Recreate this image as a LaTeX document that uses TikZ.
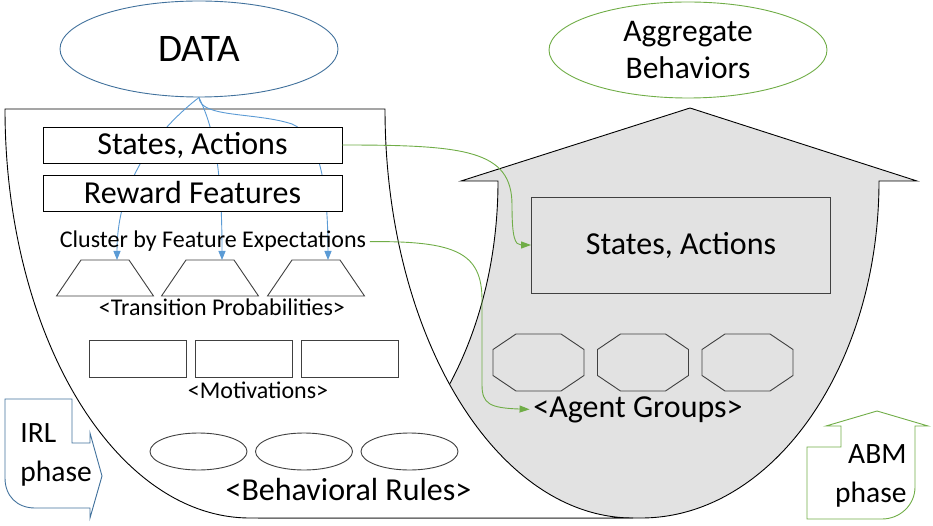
\documentclass[tikz,border=0pt]{standalone}
\usepackage{fontspec}
\setmainfont{Carlito}
\usetikzlibrary{arrows.meta,positioning,shapes.geometric}
\definecolor{dataedge}{RGB}{65,113,156}
\definecolor{linkblue}{RGB}{91,155,213}
\definecolor{abmgreen}{RGB}{112,173,71}
\definecolor{shaftfill}{RGB}{226,226,226}
\definecolor{slotedge}{RGB}{64,64,64}

\begin{document}
\begin{tikzpicture}[x=1pt, y=-1pt, line width=0.9pt,
    bigfont/.style={font=\fontsize{32}{38}\selectfont},
    smallfont/.style={font=\fontsize{24}{29}\selectfont},
    wide/.style={draw=black, fill=white, inner sep=0pt, minimum width=299pt, minimum height=36pt, bigfont},
    slot/.style={draw=slotedge, fill=white, inner sep=0pt, minimum width=97pt, minimum height=37pt},
    rule/.style={draw=slotedge, fill=white, ellipse, inner sep=0pt, minimum width=97pt, minimum height=37pt},
    blob/.style={ellipse, inner sep=0pt, minimum width=278pt, minimum height=96pt, align=center},
    feed/.style={draw=linkblue, -{Triangle[length=9pt,width=7pt]}},
    pass/.style={draw=abmgreen, -{Triangle[length=10pt,width=7pt]}}]

  \useasboundingbox (0,0) rectangle (933,526);

  \filldraw [fill=shaftfill, draw=black] (461,181) -- (690,108) -- (917,181) -- (879,181) .. controls (879,367) and (772,518) .. (641,518) -- (258,518) .. controls (391,518) and (498,367) .. (498,181) -- cycle;
  \filldraw [fill=white, draw=black] (5,109) -- (385,109) .. controls (385,335) and (496,518) .. (633,518) -- (250,518) .. controls (115,518) and (5,335) .. (5,109) -- cycle;

  \node [blob, draw=dataedge, font=\fontsize{39}{45}\selectfont] (data) at (199,49) {DATA};
  \node [blob, draw=abmgreen, font=\fontsize{31.5}{37}\selectfont] (aggr) at (688,50) {Aggregate\\Behaviors};

  \foreach \n/\x in {1/105,2/210,3/316} {
    \draw [slotedge, shift={(\x,278)}] (-48.5,18) -- (-24,-18) -- (24,-18) -- (48.5,18) -- cycle;
    \coordinate (tp\n) at ({\x+12},260);
  }

  \draw [feed] (data.south) .. controls (148,137) and (117,190) .. (tp1);
  \draw [feed] (data.south) .. controls (212,125) and (222,160) .. (tp2);
  \draw [feed] (data.south) .. controls (200,118) and (255,112) .. (292,124) .. controls (318,135) and (328,180) .. (tp3);

  \node [wide] (saL) at (192.5,145) {States, Actions};
  \node [wide] (rf) at (192.5,193) {Reward Features};
  \node [smallfont, anchor=base] (cluster) at (213,248) {Cluster by Feature Expectations};
  \node [smallfont, anchor=base] (trans) at (222,315) {<Transition Probabilities>};

  \foreach \n/\x in {1/138,2/243.5,3/349.5}
    \node [slot] (mot\n) at (\x,358.5) {};
  \node [smallfont, anchor=base] (motiv) at (258,398) {<Motivations>};

  \foreach \n/\x in {1/198.5,2/304,3/409.5}
    \node [rule] (br\n) at (\x,451.5) {};
  \node [bigfont, anchor=base] (behav) at (348.5,500) {<Behavioral Rules>};

  \node [wide, draw=slotedge, fill=shaftfill, minimum height=96pt] (saR) at (681,245) {States, Actions};
  \foreach \x in {538.5,643,747.5}
    \draw [slotedge, shift={(\x,362.5)}] (-45.5,-13) -- (-22.5,-28.5) -- (22.5,-28.5) -- (45.5,-13) -- (45.5,13) -- (22.5,28.5) -- (-22.5,28.5) -- (-45.5,13) -- cycle;
  \node [bigfont, anchor=base] (agents) at (638,417) {<Agent Groups>};

  \draw [dataedge] (5,399) -- (72,399) -- (72,443) -- (90,443) -- (90,433) -- (102,476) -- (90,518) -- (90,508) -- (35,508) .. controls (17,508) and (5,496) .. (5,478) -- cycle;
  \node [anchor=west, align=left, inner sep=0pt, font=\fontsize{29.5}{39}\selectfont] (irl) at (20,455) {IRL\\phase};

  \draw [abmgreen] (807,519) -- (807,447) -- (841,447) -- (841,426) -- (826,426) -- (877,411) -- (928,426) -- (915,426) -- (915,487) .. controls (915,505) and (900,519) .. (882,519) -- cycle;
  \node [anchor=east, align=right, inner sep=0pt, font=\fontsize{29.5}{39}\selectfont] (abm) at (907,476) {ABM\\phase};

  \draw [pass] (saL.east) .. controls (465,145) and (512,150) .. (512,205) .. controls (512,238) and (515,245) .. (saR.west);
  \draw [pass] (cluster.east) .. controls (455,241) and (482,252) .. (482,300) -- (482,385) .. controls (482,404) and (490,408) .. (agents.west);
\end{tikzpicture}
\end{document}
